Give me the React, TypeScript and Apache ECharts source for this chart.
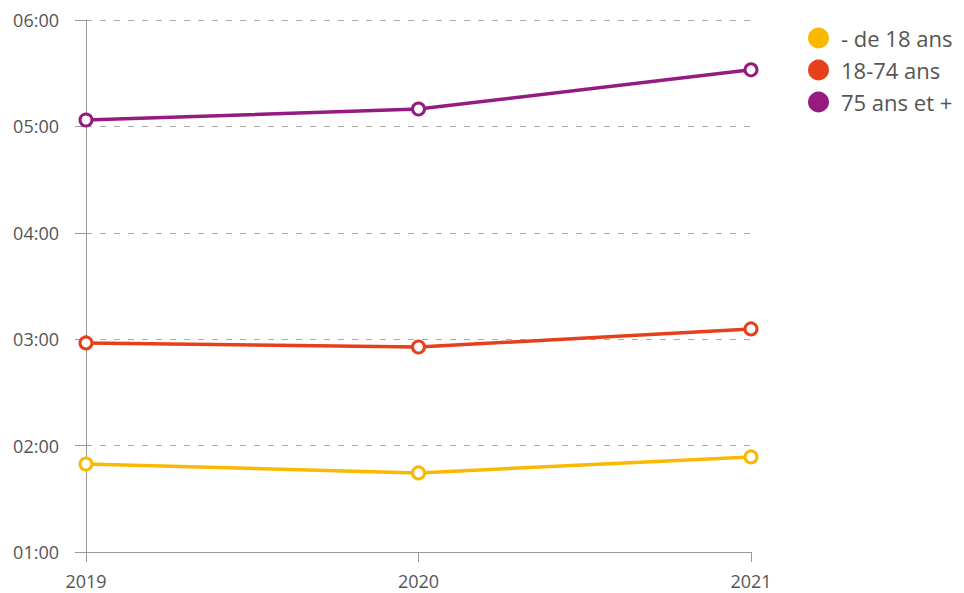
import React, { useEffect, useRef } from "react";
import * as echarts from "echarts";

const years = ["2019", "2020", "2021"];
const seriesNames = ["- de 18 ans", "18-74 ans", "75 ans et +"];
// values in minutes
const under18 = [109.6, 104.6, 113.6];
const adults = [177.9, 175.6, 185.8];
const seniors = [303.6, 309.8, 331.9];
const colors = ["#FBB800", "#E5401A", "#951B81"];

const fmt = (v: number) => {
  const h = Math.floor(v / 60);
  const m = Math.round(v - h * 60);
  return String(h).padStart(2, "0") + ":" + String(m).padStart(2, "0");
};

export default function App() {
  const ref = useRef<HTMLDivElement>(null);
  useEffect(() => {
    const chart = echarts.init(ref.current!, undefined, { renderer: "svg" });
    const font = "'Open Sans', 'Noto Sans', sans-serif";
    chart.setOption({
      animation: false,
      textStyle: { fontFamily: font },
      color: colors,
      legend: {
        orient: "vertical",
        left: 803,
        top: 22,
        icon: "circle",
        itemWidth: 21,
        itemHeight: 21,
        itemGap: 10,
        textStyle: { fontSize: 22, color: "#555", fontFamily: font, padding: [0, 0, 0, 7] },
        data: seriesNames.map((n, i) => ({
          name: n,
          itemStyle: { color: colors[i], borderWidth: 0 },
        })),
      },
      grid: { left: 86, right: 213, top: 20, bottom: 41 },
      xAxis: {
        type: "category",
        data: years,
        boundaryGap: false,
        axisLine: { lineStyle: { color: "#999", width: 1 } },
        axisTick: { show: true, length: 10, lineStyle: { color: "#999" } },
        axisLabel: { fontSize: 18, color: "#555", margin: 20, fontFamily: font },
      },
      yAxis: {
        type: "value",
        min: 60,
        max: 360,
        interval: 60,
        axisLine: { show: true, lineStyle: { color: "#999", width: 1 } },
        axisTick: { show: true, length: 11, lineStyle: { color: "#999" } },
        axisLabel: { fontSize: 18, color: "#555", margin: 27, formatter: fmt, fontFamily: font },
        splitLine: { show: true, lineStyle: { color: "#aaa", type: [6, 8], width: 1 } },
      },
      series: [
        { name: seriesNames[0], data: under18 },
        { name: seriesNames[1], data: adults },
        { name: seriesNames[2], data: seniors },
      ].map((s, i) => ({
        ...s,
        type: "line",
        symbol: "circle",
        symbolSize: 12,
        showAllSymbol: true,
        lineStyle: { width: 3.5, color: colors[i] },
        itemStyle: { color: "#fff", borderColor: colors[i], borderWidth: 3 },
      })),
    });
    return () => chart.dispose();
  }, []);
  return <div ref={ref} style={{ width: 964, height: 593, position: "absolute", left: 0, top: 0 }} />;
}
